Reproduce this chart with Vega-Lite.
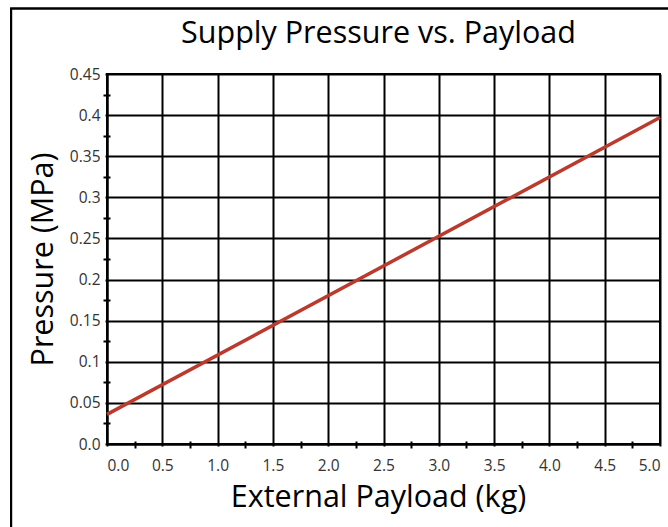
{
  "$schema": "https://vega.github.io/schema/vega-lite/v6.json",
  "width": 553,
  "height": 370,
  "autosize": {"type": "none"},
  "padding": {"left": 107, "top": 74, "right": 8, "bottom": 83},
  "background": "white",
  "title": {
    "text": "Supply Pressure vs. Payload",
    "font": "Open Sans",
    "fontSize": 30.5,
    "fontWeight": "normal",
    "color": "black",
    "offset": 24,
    "dy": 66,
    "dx": -5,
    "anchor": "middle"
  },
  "config": {
    "view": {"stroke": "black", "strokeWidth": 2},
    "axis": {
      "labelFont": "Open Sans",
      "labelFontSize": 15.5,
      "labelColor": "#333333",
      "titleFont": "Open Sans",
      "titleFontSize": 30.5,
      "titleFontWeight": "normal",
      "titleColor": "black",
      "gridColor": "black",
      "gridWidth": 2,
      "gridOpacity": 1,
      "domainColor": "black",
      "domainWidth": 2,
      "tickColor": "black",
      "tickWidth": 2
    }
  },
  "data": {
    "values": [
      {"payload": 0.0, "pressure": 0.036},
      {"payload": 5.0, "pressure": 0.397}
    ]
  },
  "layer": [
    {
      "mark": {"type": "rect", "fill": null, "stroke": "black", "strokeWidth": 2, "clip": false},
      "encoding": {
        "x": {"datum": -0.867, "type": "quantitative", "axis": null},
        "x2": {"datum": 6.5},
        "y": {"datum": 0.5297, "type": "quantitative", "axis": null},
        "y2": {"datum": -0.3}
      }
    },
    {
      "mark": {"type": "line", "color": "#bb3a2e", "strokeWidth": 3.5},
      "encoding": {
        "x": {
          "field": "payload",
          "type": "quantitative",
          "scale": {"domain": [0, 5], "nice": false, "zero": false},
          "axis": {
            "orient": "bottom",
            "grid": true,
            "title": "External Payload (kg)",
            "values": [0, 0.5, 1, 1.5, 2, 2.5, 3, 3.5, 4, 4.5, 5],
            "format": ".1f",
            "tickSize": 2,
            "labelPadding": 12,
            "titleX": 271,
            "titleY": 38
          }
        },
        "y": {
          "field": "pressure",
          "type": "quantitative",
          "scale": {"domain": [0, 0.45], "nice": false, "zero": false},
          "axis": {
            "orient": "left",
            "grid": true,
            "title": "Pressure (MPa)",
            "values": [0, 0.05, 0.1, 0.15, 0.2, 0.25, 0.3, 0.35, 0.4, 0.45],
            "labelExpr": "datum.value == 0 ? '0.0' : format(datum.value, '.2~f')",
            "tickSize": 2,
            "labelPadding": 5,
            "titleX": -49
          }
        }
      }
    },
    {
      "mark": {"type": "line", "opacity": 0},
      "encoding": {
        "x": {
          "field": "payload",
          "type": "quantitative",
          "axis": {
            "orient": "bottom",
            "title": null,
            "labels": false,
            "grid": false,
            "domain": false,
            "values": [0.25, 0.75, 1.25, 1.75, 2.25, 2.75, 3.25, 3.75, 4.25, 4.75],
            "tickSize": 7,
            "offset": -3
          }
        },
        "y": {
          "field": "pressure",
          "type": "quantitative",
          "axis": {
            "orient": "left",
            "title": null,
            "labels": false,
            "grid": false,
            "domain": false,
            "values": [0.025, 0.075, 0.125, 0.175, 0.225, 0.275, 0.325, 0.375, 0.425],
            "tickSize": 7,
            "offset": -3
          }
        }
      }
    }
  ],
  "resolve": {"axis": {"x": "independent", "y": "independent"}}
}
